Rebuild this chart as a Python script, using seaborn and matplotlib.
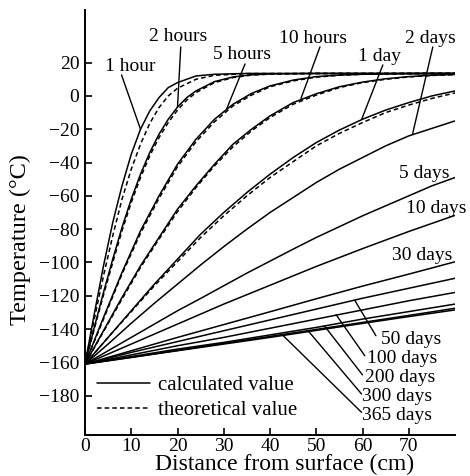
import matplotlib
matplotlib.use("Agg")
import matplotlib.pyplot as plt
import seaborn as sns
from matplotlib.lines import Line2D

# ---- temperature profiles (°C) against depth (cm) ----
x_1h = [0, 2, 4, 6, 8, 10, 12, 14, 16, 18, 20, 24, 28, 35, 45, 60, 80]
t_1h_calc = [-161, -131, -102, -76, -54, -35, -20, -9, -1, 5, 8, 12, 13, 13.5, 13.5, 13.5, 13.5]
t_1h_theo = [-161, -134, -108, -84, -62, -44, -29, -16.5, -7, 0, 4.6, 10, 12.4, 13.4, 13.5, 13.5, 13.5]

x_2h = [0, 2, 4, 6, 8, 10, 12, 14, 16, 18, 20, 22, 24, 28, 32, 36, 40, 50, 80]
t_2h_calc = [-161, -139, -118, -98, -79, -62, -47, -34, -23, -14, -6.7, -1, 3, 8.6, 11.4, 12.7, 13.2, 13.5, 13.5]
t_2h_theo = [-161, -140, -119.5, -100, -81, -64, -49, -36, -25, -16, -8.5, -2.5, 2, 8, 11, 12.5, 13.1, 13.5, 13.5]

x_5h = [0, 4, 8, 12, 16, 20, 24, 28, 32, 36, 40, 45, 50, 55, 60, 70, 80]
t_5h_calc = [-161, -133, -106, -81, -60, -41, -26, -14, -5, 1.5, 6, 9.5, 11.6, 12.5, 13, 13.4, 13.5]
t_5h_theo = [-161, -134, -107, -82.5, -61.5, -42.5, -27.5, -15.5, -6, 0.5, 5.5, 9, 11.3, 12.4, 13, 13.4, 13.5]

x_10h = [0, 4, 8, 12, 16, 20, 24, 28, 32, 36, 40, 45, 50, 55, 60, 65, 70, 75, 80]
t_10h_calc = [-161, -141, -121, -102, -85, -68, -54, -41, -29, -20, -12, -4, 1.3, 5.5, 8.3, 10.3, 11.6, 12.4, 12.9]
t_10h_theo = [-161, -141.5, -122, -103, -86, -69.5, -55, -42, -30.5, -21, -13, -5, 0.5, 5, 8, 10, 11.4, 12.3, 12.8]

x_days = [0, 5, 10, 15, 20, 25, 30, 35, 40, 45, 50, 55, 60, 65, 70, 75, 80]
t_1d_calc = [-161, -145, -129, -113, -98, -83, -70, -58, -47, -37, -28, -20.5, -14, -8.5, -4, 0, 3]
t_1d_theo = [-161, -145, -129.5, -114, -99.5, -85, -72, -60, -49, -39.5, -30, -22.5, -16, -10, -5.5, -1.5, 1.8]
t_2d = [-161, -149, -136.5, -124.5, -113, -101.5, -90.5, -80, -70, -61, -52, -44, -37, -30, -24, -19.5, -15]
t_5d = [-161, -153, -145, -137, -129, -121.6, -114, -106.4, -99.2, -92, -85, -78.5, -72, -66, -60, -54, -49]

x_long = [0, 10, 20, 30, 40, 50, 60, 70, 80]
t_10d = [-161, -149, -137, -125, -113.7, -102.4, -91.7, -81.4, -71.7]
t_30d = [-161, -153, -145, -137.3, -129.6, -121.8, -114.2, -107, -99.6]
t_50d = [-161, -154, -147.5, -141, -134.5, -128, -121.5, -115.5, -109.5]
t_100d = [-161, -155.5, -150, -145, -139.5, -134, -128.5, -123, -118]
t_200d = [-161, -156.5, -152, -148, -143.5, -139, -134, -129.5, -125]
t_300d = [-161, -157, -152.8, -148.6, -144.4, -140.2, -136, -131.8, -127.5]
t_365d = [-161, -157, -153, -149, -145, -140.8, -136.6, -132.5, -128.5]

x_ticks = [0, 10, 20, 30, 40, 50, 60, 70]
y_ticks = [20, 0, -20, -40, -60, -80, -100, -120, -140, -160, -180]

# labels at the top with leader lines: (text, text pos, leader start, leader end)
top_labels = [
    ("1 hour", (9.7, 17.4), (7.9, 12.6), (12.0, -20.0)),
    ("2 hours", (20.1, 35.4), (20.7, 29.4), (20.0, -6.7)),
    ("5 hours", (33.9, 24.6), (34.6, 19.2), (30.6, -8.0)),
    ("10 hours", (49.2, 34.2), (50.8, 29.4), (46.7, -1.5)),
    ("1 day", (63.7, 23.4), (64.4, 18.6), (59.8, -14.2)),
    ("2 days", (74.7, 34.2), (75.2, 29.4), (70.8, -23.2)),
]
side_labels = [("5 days", (73.4, -46.5)), ("10 days", (76.0, -67.5)), ("30 days", (72.8, -95.8))]
bottom_labels = [
    ("50 days", (64.1, -146.5), (62.9, -144.0), (58.3, -122.6)),
    ("100 days", (60.9, -157.6), (60.5, -156.0), (54.3, -131.4)),
    ("200 days", (60.5, -169.0), (60.0, -167.5), (51.8, -138.2)),
    ("300 days", (60.0, -180.4), (59.8, -179.0), (48.2, -140.9)),
    ("365 days", (60.0, -191.8), (59.8, -190.0), (42.8, -143.8)),
]

sns.set_theme(style="ticks")
plt.rcParams["font.family"] = ["Liberation Serif", "DejaVu Serif"]
plt.rcParams.update({
    "text.color": "black", "axes.labelcolor": "black",
    "xtick.color": "black", "ytick.color": "black", "axes.edgecolor": "black",
})

fig = plt.figure(figsize=(4.7, 4.76), dpi=100)
ax = fig.add_axes([85 / 470, 1 - 435 / 476, 370 / 470, 425 / 476])

LW = 1.1
DASH = (0, (3, 2))

solid_curves = [
    (x_1h, t_1h_calc), (x_2h, t_2h_calc), (x_5h, t_5h_calc), (x_10h, t_10h_calc),
    (x_days, t_1d_calc), (x_days, t_2d), (x_days, t_5d),
    (x_long, t_10d), (x_long, t_30d), (x_long, t_50d), (x_long, t_100d),
    (x_long, t_200d), (x_long, t_300d), (x_long, t_365d),
]
dashed_curves = [
    (x_1h, t_1h_theo), (x_2h, t_2h_theo), (x_5h, t_5h_theo),
    (x_10h, t_10h_theo), (x_days, t_1d_theo),
]

for xs, ys in solid_curves:
    sns.lineplot(x=xs, y=ys, ax=ax, color="black", lw=LW, estimator=None, sort=False)
for xs, ys in dashed_curves:
    sns.lineplot(x=xs, y=ys, ax=ax, color="black", lw=LW, linestyle=DASH,
                 estimator=None, sort=False)

leader = dict(arrowstyle="-", lw=1.0, color="black", shrinkA=0, shrinkB=0)
for text, tpos, start, end in top_labels:
    ax.text(*tpos, text, fontsize=14, ha="center", va="center")
    ax.annotate("", xy=end, xytext=start, arrowprops=leader)
for text, tpos in side_labels:
    ax.text(*tpos, text, fontsize=14, ha="center", va="center")
for text, tpos, start, end in bottom_labels:
    ax.text(*tpos, text, fontsize=14, ha="left", va="center")
    ax.annotate("", xy=end, xytext=start, arrowprops=leader)

handles = [Line2D([], [], color="black", lw=LW),
           Line2D([], [], color="black", lw=LW, linestyle=DASH)]
ax.legend(handles, ["calculated value", "theoretical value"], loc="lower left",
          bbox_to_anchor=(0.033, 0.035), frameon=False, fontsize=15,
          handlelength=2.55, handletextpad=0.35, labelspacing=0.25,
          borderpad=0, borderaxespad=0)

ax.set_xlim(0, 80)
ax.set_ylim(-203.6, 51.6)
ax.set_xticks(x_ticks)
ax.set_yticks(y_ticks)
ax.tick_params(direction="in", length=5, width=1.2, labelsize=14)
ax.tick_params(axis="x", pad=2.5)
ax.tick_params(axis="y", pad=4)
for side in ("top", "right"):
    ax.spines[side].set_visible(False)
for side in ("left", "bottom"):
    ax.spines[side].set_linewidth(1.4)

ax.set_xlabel("Distance from surface (cm)", fontsize=17, va="baseline")
ax.set_ylabel("Temperature (°C)", fontsize=17.5)
ax.yaxis.set_label_coords(-0.146, 0.46)
ax.xaxis.set_label_coords(0.54, -0.083)

fig.savefig("out.png", dpi=100)
